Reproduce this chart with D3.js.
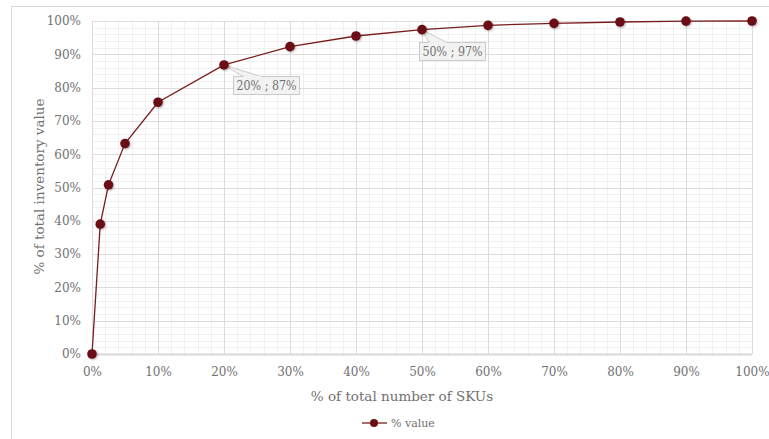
<!DOCTYPE html>
<html>
<head>
<meta charset="utf-8">
<script src="https://cdn.jsdelivr.net/npm/d3@7"></script>
<style>
  html, body { margin: 0; padding: 0; background: #fff; }
  svg { display: block; font-family: "DejaVu Serif", "Liberation Serif", serif; }
</style>
</head>
<body>
<svg id="chart" width="769" height="439"></svg>
<script>
// Cumulative share of inventory value vs. share of SKUs (Pareto / ABC curve)
const skuShare   = [0, 0.0125, 0.025, 0.05, 0.10, 0.20, 0.30, 0.40, 0.50, 0.60, 0.70, 0.80, 0.90, 1.00];
const valueShare = [0, 0.39, 0.508, 0.632, 0.756, 0.868, 0.923, 0.955, 0.974, 0.987, 0.993, 0.997, 0.9995, 1.00];
const xTicks = [0, 0.1, 0.2, 0.3, 0.4, 0.5, 0.6, 0.7, 0.8, 0.9, 1.0];
const yTicks = [0, 0.1, 0.2, 0.3, 0.4, 0.5, 0.6, 0.7, 0.8, 0.9, 1.0];
const calloutIdx = [5, 8];
const seriesName = "% value";
const xTitle = "% of total number of SKUs";
const yTitle = "% of total inventory value";

const svg = d3.select("#chart");
const W = 769, H = 439;
const m = { left: 92, right: 17, top: 21, bottom: 85 };
const pw = W - m.left - m.right, ph = H - m.top - m.bottom;

const x = d3.scaleLinear().domain([0, 1]).range([m.left, m.left + pw]);
const y = d3.scaleLinear().domain([0, 1]).range([m.top + ph, m.top]);
const pct = d3.format(".0%");

const textCol = "#707070";
const lineCol = "#7a1c1c";
const dotCol = "#6a0f12";

// outer chart frame
svg.append("rect")
  .attr("x", 11.5).attr("y", 6.5)
  .attr("width", W).attr("height", H)
  .attr("fill", "none").attr("stroke", "#d9d9d9");

const defs = svg.append("defs");
const sh = defs.append("filter").attr("id", "sh").attr("x", "-50%").attr("y", "-50%").attr("width", "200%").attr("height", "200%");
sh.append("feDropShadow").attr("dx", 1).attr("dy", 1).attr("stdDeviation", 1).attr("flood-color", "#000").attr("flood-opacity", 0.3);

// minor grid (every 2%)
const minor = d3.range(0, 1.0001, 0.02);
const g = svg.append("g");
g.selectAll("line.mx").data(minor).join("line")
  .attr("x1", d => Math.round(x(d)) + 0.5).attr("x2", d => Math.round(x(d)) + 0.5)
  .attr("y1", y(0)).attr("y2", y(1))
  .attr("stroke", "#f0f0f0");
g.selectAll("line.my").data(minor).join("line")
  .attr("y1", d => Math.round(y(d)) + 0.5).attr("y2", d => Math.round(y(d)) + 0.5)
  .attr("x1", x(0)).attr("x2", x(1))
  .attr("stroke", "#f0f0f0");

// major grid
g.selectAll("line.Mx").data(xTicks).join("line")
  .attr("x1", d => Math.round(x(d)) + 0.5).attr("x2", d => Math.round(x(d)) + 0.5)
  .attr("y1", y(0)).attr("y2", y(1))
  .attr("stroke", "#dcdcdc");
g.selectAll("line.My").data(yTicks).join("line")
  .attr("y1", d => Math.round(y(d)) + 0.5).attr("y2", d => Math.round(y(d)) + 0.5)
  .attr("x1", x(0)).attr("x2", x(1))
  .attr("stroke", "#dcdcdc");

// x axis baseline
svg.append("line")
  .attr("x1", x(0)).attr("x2", x(1))
  .attr("y1", y(0) + 0.5).attr("y2", y(0) + 0.5)
  .attr("stroke", "#d9d9d9").attr("stroke-width", 2);

// axes
const xAxis = svg.append("g").attr("transform", `translate(0,${y(0)})`)
  .call(d3.axisBottom(x).tickValues(xTicks).tickFormat(pct).tickSize(0).tickPadding(13));
const yAxis = svg.append("g").attr("transform", `translate(${x(0)},0)`)
  .call(d3.axisLeft(y).tickValues(yTicks).tickFormat(pct).tickSize(0).tickPadding(11));
[xAxis, yAxis].forEach(a => {
  a.select(".domain").remove();
  a.selectAll("text").attr("fill", textCol).style("font-size", "12px")
    .style("font-family", "DejaVu Serif, serif");
});

// axis titles
svg.append("text")
  .attr("x", 402).attr("y", 401)
  .attr("text-anchor", "middle").attr("fill", textCol)
  .style("font-size", "13.5px").text(xTitle);
svg.append("text")
  .attr("transform", `translate(44,${y(0.5) - 1}) rotate(-90)`)
  .attr("text-anchor", "middle").attr("fill", textCol)
  .style("font-size", "13.5px").text(yTitle);

const pts = skuShare.map((s, i) => ({ s, v: valueShare[i] }));

// curve
svg.append("path").datum(pts)
  .attr("fill", "none").attr("stroke", lineCol).attr("stroke-width", 1.3)
  .attr("d", d3.line().x(d => x(d.s)).y(d => y(d.v)));

// callouts (drawn under the markers so the pointer starts beneath the dot)
const calloutOffset = { 5: [9, 11], 8: [-3, 12] };
const co = svg.append("g");
calloutIdx.forEach(i => {
  const d = pts[i];
  const px = x(d.s), py = y(d.v);
  const label = `${pct(d.s)} ; ${pct(d.v)}`;
  const [ox, oy] = calloutOffset[i];
  const bx = Math.round(px + ox), by = Math.round(py + oy), bw = 66, bh = 18;
  co.append("path")
    .attr("d", `M${px},${py} L${bx + 10},${by + 0.5} L${bx + 28},${by + 0.5} Z`)
    .attr("fill", "#f2f2f2").attr("stroke", "#bfbfbf").attr("stroke-width", 0.8);
  co.append("rect")
    .attr("x", bx + 0.5).attr("y", by + 0.5).attr("width", bw).attr("height", bh)
    .attr("fill", "#f2f2f2").attr("stroke", "#bfbfbf").attr("stroke-width", 0.8);
  co.append("path")
    .attr("d", `M${bx + 10.5},${by + 0.5} L${bx + 27.5},${by + 0.5}`)
    .attr("stroke", "#f2f2f2").attr("stroke-width", 1.2);
  co.append("text")
    .attr("x", bx + bw / 2 + 0.5).attr("y", by + 14)
    .attr("text-anchor", "middle").attr("fill", textCol)
    .attr("textLength", 60).attr("lengthAdjust", "spacingAndGlyphs")
    .style("font-size", "12.5px").text(label);
});

// markers
svg.append("g").selectAll("circle").data(pts).join("circle")
  .attr("cx", d => x(d.s)).attr("cy", d => y(d.v)).attr("r", 4.8)
  .attr("fill", dotCol).attr("filter", "url(#sh)");

// legend
const lg = svg.append("g").attr("transform", "translate(362,423)");
lg.append("line").attr("x1", 0).attr("x2", 25).attr("y1", 0).attr("y2", 0)
  .attr("stroke", lineCol).attr("stroke-width", 1.3);
lg.append("circle").attr("cx", 12).attr("cy", 0).attr("r", 4)
  .attr("fill", dotCol);
lg.append("text").attr("x", 29).attr("y", 4)
  .attr("fill", textCol).style("font-size", "11px").text(seriesName);
</script>
</body>
</html>
